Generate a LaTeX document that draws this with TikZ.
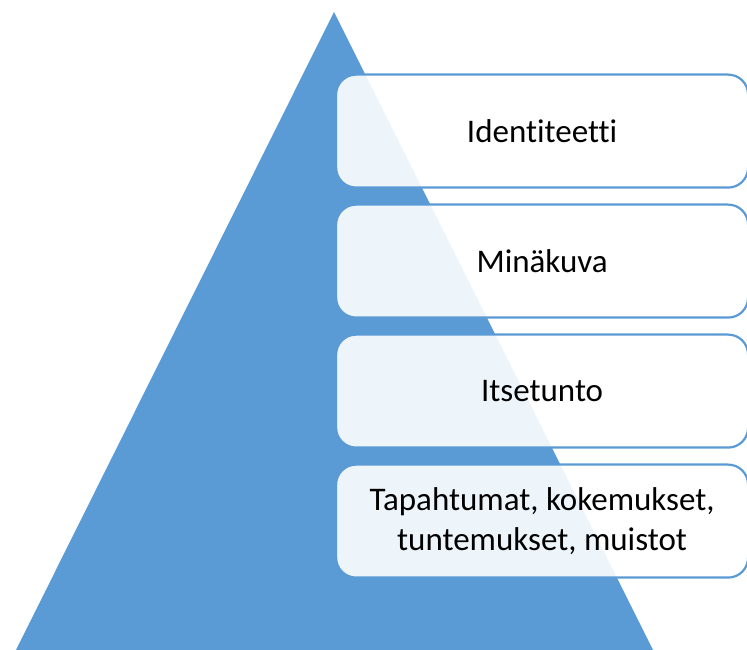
\documentclass[tikz,border=0pt]{standalone}
\usepackage{fontspec}
\setmainfont[Ligatures={NoCommon}]{Carlito}
\definecolor{pyrblue}{HTML}{5B9BD5}
\tikzset{
  levelbox/.style={draw=pyrblue, line width=2.2pt, fill=white, fill opacity=0.9, text opacity=1,
    rounded corners=20pt, minimum width=412pt, minimum height=113pt, inner sep=0pt,
    align=center, font=\fontsize{33}{40}\selectfont, anchor=north west},
  pyramid/.style={fill=pyrblue, draw=none}
}
\begin{document}
\begin{tikzpicture}[x=1pt,y=1pt]
\useasboundingbox (0,0) rectangle (747,650);
\coordinate (apex) at (334,638);
\coordinate (bl) at (16,0);
\coordinate (br) at (653,0);
\fill[pyramid] (bl) -- (apex) -- (br) -- cycle;
\node[levelbox] (b1) at (335,576.5) {Identiteetti};
\node[levelbox] (b2) at (335,446.5) {Minäkuva};
\node[levelbox] (b3) at (335,316.5) {Itsetunto};
\node[levelbox] (b4) at (335,186.5) {Tapahtumat, kokemukset,\\tuntemukset, muistot};
\end{tikzpicture}
\end{document}
